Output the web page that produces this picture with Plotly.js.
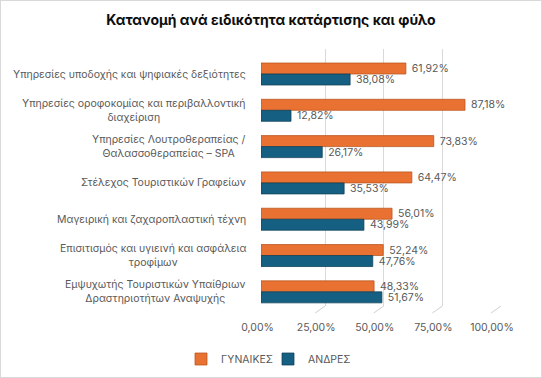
<!DOCTYPE html>
<html>
<head>
<meta charset="utf-8">
<script src="https://cdn.plot.ly/plotly-3.0.1.min.js"></script>
<style>html,body{margin:0;padding:0;background:#fff}</style>
</head>
<body>
<div id="chart" style="width:542px;height:378px"></div>
<script>
const categories = [
  "Υπηρεσίες υποδοχής και ψηφιακές δεξιότητες",
  "Υπηρεσίες οροφοκομίας και περιβαλλοντική<br>διαχείριση",
  "Υπηρεσίες Λουτροθεραπείας /<br>Θαλασσοθεραπείας – SPA",
  "Στέλεχος Τουριστικών Γραφείων",
  "Μαγειρική και ζαχαροπλαστική τέχνη",
  "Επισιτισμός και υγιεινή και ασφάλεια<br>τροφίμων",
  "Εμψυχωτής Τουριστικών Υπαίθριων<br>Δραστηριοτήτων Αναψυχής"
];
const women = [61.92, 87.18, 73.83, 64.47, 56.01, 52.24, 48.33];
const men = [38.08, 12.82, 26.17, 35.53, 43.99, 47.76, 51.67];
const seriesNames = ["ΓΥΝΑΙΚΕΣ", "ΑΝΔΡΕΣ"];
const tickValues = [0, 25, 50, 75, 100];
const tickLabels = ["0,00%", "25,00%", "50,00%", "75,00%", "100,00%"];
const chartTitle = "Κατανομή ανά ειδικότητα κατάρτισης και φύλο";

const W = 542, H = 378;
const FONT = "Inter, 'Open Sans', sans-serif";
const GREY = "#595959";
const FS = 10.5;

const traces = [
  {type: 'scatter', x: [], y: [], xaxis: 'x', yaxis: 'y', showlegend: false, hoverinfo: 'skip'},
  {
    type: 'bar', orientation: 'h', name: seriesNames[0], legend: 'legend',
    x: women, y: categories, xaxis: 'x2', yaxis: 'y2',
    marker: {color: '#E97132', line: {color: '#B8531C', width: 0.75}},
    texttemplate: ' %{x:.2f}%', textposition: 'outside', constraintext: 'none', cliponaxis: false,
    textfont: {family: FONT, size: FS, color: GREY}
  },
  {
    type: 'bar', orientation: 'h', name: seriesNames[1], legend: 'legend2',
    x: men, y: categories, xaxis: 'x2', yaxis: 'y2',
    marker: {color: '#156082', line: {color: '#0D3F57', width: 0.75}},
    texttemplate: ' %{x:.2f}%', textposition: 'outside', constraintext: 'none', cliponaxis: false,
    textfont: {family: FONT, size: FS, color: GREY}
  }
];

const annotations = categories.map(c => ({
  xref: 'paper', yref: 'y2', x: 248 / W, y: c, xanchor: 'right', yanchor: 'middle',
  text: c, showarrow: false, align: 'center',
  font: {family: FONT, size: FS, color: GREY}
}));

const floorShapes = tickValues.map(v => ({
  type: 'line', xref: 'x', xsizemode: 'pixel', xanchor: v, x0: 0, x1: -10,
  yref: 'paper', y0: 1 - 306 / H, y1: 1 - 313 / H,
  line: {color: '#d0d0d0', width: 1}, layer: 'above'
}));

const legendStyle = {
  orientation: 'h', yanchor: 'middle', y: 1 - 359 / H, xanchor: 'left',
  font: {family: FONT, size: FS, color: GREY}, itemwidth: 30,
  bgcolor: 'rgba(0,0,0,0)'
};

const layout = {
  width: W, height: H, autosize: false,
  margin: {l: 0, r: 0, t: 0, b: 0, pad: 0},
  paper_bgcolor: '#ffffff', plot_bgcolor: 'rgba(0,0,0,0)',
  separators: ',.',
  font: {family: FONT, size: 11, color: GREY},
  title: {
    text: chartTitle, x: 0.5, xanchor: 'center', xref: 'paper',
    y: 1 - 20.5 / H, yanchor: 'middle', yref: 'paper',
    font: {family: FONT, size: 14, color: '#0d0d0d', weight: 700}
  },
  xaxis: {
    domain: [266.5 / W, 501 / W], range: [0, 100], anchor: 'y',
    tickmode: 'array', tickvals: tickValues, ticktext: tickLabels,
    showgrid: true, gridcolor: '#d9d9d9', gridwidth: 1, zeroline: false, showline: false,
    ticks: '', ticklabelshift: -9, ticklabelstandoff: 13,
    tickfont: {family: FONT, size: FS, color: GREY}, fixedrange: true
  },
  yaxis: {domain: [1 - 306 / H, 1 - 49 / H], range: [0, 1], visible: false, anchor: 'x'},
  xaxis2: {
    domain: [261 / W, 495 / W], range: [0, 100], anchor: 'y2',
    showgrid: false, zeroline: false, showline: false, showticklabels: false, ticks: ''
  },
  yaxis2: {
    domain: [1 - 310 / H, 1 - 55.85 / H], anchor: 'x2', type: 'category',
    categoryorder: 'array', categoryarray: categories,
    range: [categories.length - 0.5, -0.5],
    showgrid: false, zeroline: false, showline: false, showticklabels: false, ticks: ''
  },
  barmode: 'group', bargap: 0.394, bargroupgap: 0,
  showlegend: true,
  legend: Object.assign({}, legendStyle, {x: 181 / W}),
  legend2: Object.assign({}, legendStyle, {x: 268 / W}),
  annotations: annotations,
  shapes: floorShapes.concat([{
    type: 'rect', xref: 'paper', yref: 'paper', x0: 0, y0: 0, x1: 1, y1: 1,
    line: {color: '#d9d9d9', width: 2}, layer: 'above'
  }])
};

Plotly.newPlot('chart', traces, layout, {displayModeBar: false, staticPlot: true});
</script>
</body>
</html>
